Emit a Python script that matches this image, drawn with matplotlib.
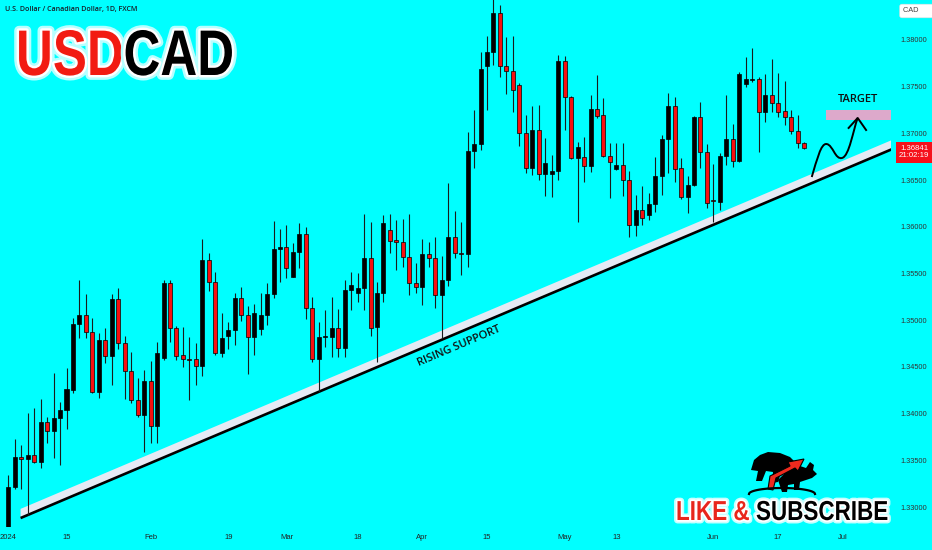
import matplotlib
matplotlib.use('Agg')
import matplotlib.pyplot as plt
import numpy as np
import pandas as pd
from matplotlib import patheffects as pe, font_manager as fm
from matplotlib.patches import Polygon, PathPatch
from matplotlib.path import Path
from matplotlib.transforms import Affine2D, blended_transform_factory

# ---------------- data (USDCAD daily, FXCM) ----------------
OPEN = [1.3245, 1.33218, 1.33532, 1.33510, 1.33553, 1.33478, 1.33910, 1.33810, 1.33949, 1.34038,
        1.34253, 1.34956, 1.35059, 1.34870, 1.34228, 1.34788, 1.34617, 1.35227, 1.34752, 1.34456,
        1.34146, 1.33985, 1.34349, 1.33867, 1.34592, 1.35395, 1.34920, 1.34624, 1.34581, 1.34585,
        1.34513, 1.35645, 1.35405, 1.34645, 1.34834, 1.34895, 1.35234, 1.35059, 1.34817, 1.34902,
        1.35059, 1.35280, 1.35759, 1.35780, 1.35466, 1.35734, 1.35923, 1.35134, 1.34588, 1.34817,
        1.34824, 1.34913, 1.34706, 1.35323, 1.35288, 1.35341, 1.35670, 1.34924, 1.35295, 1.35966,
        1.35859, 1.35834, 1.35673, 1.35402, 1.35359, 1.35705, 1.35670, 1.35266, 1.35430, 1.35887,
        1.35723, 1.35709, 1.36812, 1.36887, 1.37725, 1.37875, 1.38286, 1.37725, 1.37668, 1.37518,
        1.37001, 1.36626, 1.37036, 1.36565, 1.36565, 1.36596, 1.37779, 1.37386, 1.36733, 1.36744,
        1.36651, 1.37258, 1.37193, 1.36762, 1.36619, 1.36662, 1.36501, 1.36019, 1.36180, 1.36126,
        1.36244, 1.36544, 1.36940, 1.37293, 1.36626, 1.36315, 1.36448, 1.37179, 1.36797, 1.36287,
        1.36269, 1.36758, 1.36940, 1.36704, 1.37525, 1.37575, 1.37579, 1.37233, 1.37411, 1.37322,
        1.37240, 1.37179, 1.37026, 1.36894]
HIGH = [1.33343, 1.33724, 1.33664, 1.34003, 1.34056, 1.34153, 1.33960, 1.34431, 1.34120, 1.34485,
        1.35020, 1.35430, 1.35280, 1.35020, 1.34866, 1.34913, 1.35280, 1.35341, 1.34831, 1.34656,
        1.34377, 1.34467, 1.34563, 1.34763, 1.35430, 1.35430, 1.34938, 1.34931, 1.34824, 1.34752,
        1.35866, 1.35723, 1.35520, 1.35073, 1.34977, 1.35295, 1.35359, 1.35152, 1.35173, 1.35288,
        1.35395, 1.36062, 1.35976, 1.36019, 1.35830, 1.36044, 1.35994, 1.35252, 1.34977, 1.35109,
        1.35252, 1.35120, 1.35430, 1.35520, 1.35509, 1.36133, 1.36055, 1.35413, 1.36126, 1.36133,
        1.36073, 1.36080, 1.36133, 1.35609, 1.35866, 1.35841, 1.35887, 1.35687, 1.36473, 1.36173,
        1.36055, 1.37019, 1.37251, 1.37875, 1.38043, 1.38460, 1.38375, 1.38036, 1.38043, 1.37536,
        1.37197, 1.37293, 1.37304, 1.36954, 1.36769, 1.37839, 1.37829, 1.37400, 1.36912, 1.36965,
        1.37411, 1.37625, 1.37375, 1.36901, 1.36894, 1.36901, 1.36601, 1.36340, 1.36437, 1.36358,
        1.36751, 1.36983, 1.37429, 1.37386, 1.36733, 1.36544, 1.37186, 1.37340, 1.36887, 1.36672,
        1.36790, 1.37411, 1.37097, 1.37661, 1.37814, 1.37911, 1.37600, 1.37632, 1.37793, 1.37643,
        1.37561, 1.37250, 1.37197, 1.36911]
LOW = [1.3238, 1.33189, 1.33189, 1.32914, 1.33467, 1.33414, 1.33682, 1.33521, 1.33450, 1.33831,
       1.34217, 1.34813, 1.34813, 1.34217, 1.34163, 1.34545, 1.34306, 1.34692, 1.34153, 1.34117,
       1.33967, 1.33592, 1.33689, 1.33682, 1.34574, 1.34770, 1.34574, 1.34495, 1.34146, 1.34306,
       1.34406, 1.35316, 1.34627, 1.34610, 1.34692, 1.34734, 1.34995, 1.34424, 1.34627, 1.34842,
       1.34949, 1.35234, 1.35412, 1.35455, 1.35459, 1.35555, 1.35013, 1.34556, 1.34235, 1.34717,
       1.34602, 1.34610, 1.34610, 1.35109, 1.35198, 1.35109, 1.34834, 1.34556, 1.35198, 1.35716,
       1.35537, 1.35573, 1.35270, 1.35288, 1.35163, 1.35566, 1.35127, 1.34806, 1.35366, 1.35662,
       1.35484, 1.35573, 1.36626, 1.36822, 1.37251, 1.37732, 1.37607, 1.37418, 1.37233, 1.36865,
       1.36580, 1.36555, 1.36501, 1.36330, 1.36323, 1.36500, 1.37036, 1.36722, 1.36055, 1.36483,
       1.36590, 1.37161, 1.36744, 1.36305, 1.36608, 1.36333, 1.35894, 1.35901, 1.36019, 1.36073,
       1.36162, 1.36340, 1.36572, 1.36483, 1.36294, 1.36151, 1.36437, 1.36626, 1.36198, 1.36055,
       1.36180, 1.36662, 1.36644, 1.36690, 1.37500, 1.37550, 1.36804, 1.37126, 1.37233, 1.37179,
       1.37090, 1.36990, 1.36840, 1.36833]
CLOSE = [1.33218, 1.33532, 1.33510, 1.33553, 1.33482, 1.33910, 1.33810, 1.33949, 1.34038, 1.34260,
         1.34956, 1.35059, 1.34870, 1.34228, 1.34788, 1.34617, 1.35227, 1.34752, 1.34456, 1.34146,
         1.33985, 1.34349, 1.33867, 1.34645, 1.35395, 1.34920, 1.34620, 1.34581, 1.34576, 1.34513,
         1.35645, 1.35405, 1.34645, 1.34813, 1.34895, 1.35234, 1.35059, 1.34817, 1.35073, 1.35059,
         1.35280, 1.35759, 1.35780, 1.35555, 1.35734, 1.35923, 1.35134, 1.34588, 1.34824, 1.34831,
         1.34913, 1.34706, 1.35323, 1.35373, 1.35341, 1.35670, 1.34920, 1.35295, 1.36037, 1.35852,
         1.35841, 1.35673, 1.35402, 1.35359, 1.35705, 1.35670, 1.35266, 1.35430, 1.35887, 1.35716,
         1.35709, 1.36815, 1.36887, 1.37686, 1.37875, 1.38286, 1.37725, 1.37668, 1.37465, 1.37001,
         1.36626, 1.37036, 1.36565, 1.36680, 1.36601, 1.37779, 1.37386, 1.36733, 1.36851, 1.36651,
         1.37258, 1.37186, 1.36762, 1.36690, 1.36662, 1.36501, 1.36019, 1.36180, 1.36098, 1.36244,
         1.36544, 1.36940, 1.37293, 1.36615, 1.36315, 1.36448, 1.37179, 1.36797, 1.36258, 1.36273,
         1.36758, 1.36940, 1.36704, 1.37636, 1.37579, 1.37583, 1.37233, 1.37411, 1.37322, 1.37233,
         1.37179, 1.37026, 1.36894, 1.36841]
START_DATE = '2024-01-02'

TICK_DATES = ['2024-01-02', '2024-01-15', '2024-02-01', '2024-02-19', '2024-03-01', '2024-03-18',
              '2024-04-01', '2024-04-15', '2024-05-01', '2024-05-13', '2024-06-03', '2024-06-17',
              '2024-07-01']
TICK_LABELS = ['2024', '15', 'Feb', '19', 'Mar', '18', 'Apr', '15', 'May', '13', 'Jun', '17', 'Jul']
PRICE_TICKS = [1.330, 1.335, 1.340, 1.345, 1.350, 1.355, 1.360, 1.365, 1.370, 1.375, 1.380]

# annotation drawing (bar index, price)
SUPPORT_X = [1.9, 136.6]
SUPPORT_Y = [1.32882, 1.36831]
TARGET_X = [126.4, 136.6]
TARGET_Y = [1.37143, 1.37250]
CLOCK = '21:02:19'

# ---------------- fonts ----------------
names = {f.name for f in fm.fontManager.ttflist}
NARROW = 'Liberation Sans Narrow' if 'Liberation Sans Narrow' in names else 'Liberation Sans'
SANS = 'Open Sans' if 'Open Sans' in names else 'DejaVu Sans'
BG = '#00FFFF'


def _stretch(affine, sy, y0):
    return affine + Affine2D().translate(0, -y0).scale(1, sy).translate(0, y0)


class TallStroke(pe.Stroke):
    """Stroke effect that draws the glyph outlines taller (condensed look)."""
    def __init__(self, sy, y0, **kw):
        super().__init__(**kw)
        self.sy, self.y0 = sy, y0

    def draw_path(self, renderer, gc, tpath, affine, rgbFace):
        super().draw_path(renderer, gc, tpath, _stretch(affine, self.sy, self.y0), rgbFace)


class TallNormal(pe.AbstractPathEffect):
    def __init__(self, sy, y0):
        super().__init__()
        self.sy, self.y0 = sy, y0

    def draw_path(self, renderer, gc, tpath, affine, rgbFace):
        renderer.draw_path(gc, tpath, _stretch(affine, self.sy, self.y0), rgbFace)


W, H = 932, 550
fig = plt.figure(figsize=(W / 100, H / 100), dpi=100)
fig.patch.set_facecolor(BG)
ax = fig.add_axes([0, 23 / H, 891 / W, 527 / H])
ax.set_facecolor(BG)
for s in ax.spines.values():
    s.set_visible(False)

n = len(OPEN)
x = np.arange(n)
o = np.array(OPEN); c = np.array(CLOSE); hi = np.array(HIGH); lo = np.array(LOW)
up = c >= o
ax.vlines(x, lo, hi, color='#1a1a1a', lw=0.8, zorder=2)
body_lo = np.minimum(o, c)
body_h = np.maximum(np.abs(c - o), 0.00004)
cols = np.where(up, '#000000', '#F80F0F')
ax.bar(x, body_h, bottom=body_lo, width=0.62, color=cols, edgecolor='#000000', lw=0.5, zorder=3)

ax.set_xlim(-1.28, 136.45)
ax.set_ylim(1.32786, 1.38428)

# x ticks
all_dates = pd.bdate_range(START_DATE, '2024-07-31')
tick_pos = [all_dates.get_loc(pd.Timestamp(d)) for d in TICK_DATES]
ax.set_xticks(tick_pos)
ax.set_xticklabels(TICK_LABELS, family=NARROW, fontsize=5.5, color='#222222')
ax.tick_params(axis='x', length=0, pad=5)

# y ticks on right
ax.yaxis.tick_right()
ax.set_yticks(PRICE_TICKS)
ax.set_yticklabels([f'{v:.5f}' for v in PRICE_TICKS], family=NARROW, fontsize=5.3, color='#333333')
ax.tick_params(axis='y', length=0, pad=7)

# support line with white band
sx = np.array(SUPPORT_X); sy = np.array(SUPPORT_Y)
off = 0.00098
band = Polygon([[sx[0], sy[0]], [sx[1], sy[1]], [sx[1], sy[1] + off], [sx[0], sy[0] + off]],
               closed=True, fc='#E6EAF4', ec='none', zorder=1.5)
ax.add_patch(band)
ax.plot(sx, sy, color='black', lw=1.9, solid_capstyle='butt', zorder=1.6)
ax.text(69.7, 1.34724, 'RISING SUPPORT', rotation=23, rotation_mode='anchor', ha='center', va='center',
        family=SANS, fontsize=8, fontweight='semibold', color='#111111', zorder=4)

# target zone
ax.add_patch(plt.Rectangle((TARGET_X[0], TARGET_Y[0]), TARGET_X[1] - TARGET_X[0], TARGET_Y[1] - TARGET_Y[0],
                           fc='#DDA9CB', ec='none', zorder=2))
ax.text(131.3, 1.37368, 'TARGET', ha='center', va='center', family=SANS, fontsize=8,
        fontweight='semibold', color='#111111')

# curved arrow toward target
verts = [(124.2, 1.36533), (125.0, 1.36715), (125.6, 1.36897), (126.5, 1.36886),
         (127.5, 1.36876), (127.8, 1.36715), (128.9, 1.36737),
         (130.0, 1.36758), (130.6, 1.37036), (131.3, 1.37165)]
codes = [Path.MOVETO] + [Path.CURVE4] * 9
ax.add_patch(PathPatch(Path(verts, codes), fc='none', ec='black', lw=1.4, zorder=4))
ax.plot([129.9, 131.3, 132.6], [1.37058, 1.37165, 1.37036], color='black', lw=1.4, zorder=4)

# subtitle
fig.text(5 / W, 1 - 10 / H, 'U.S. Dollar / Canadian Dollar, 1D, FXCM', family=SANS, fontsize=5.1,
         fontweight='semibold', color='#15202a', ha='left', va='center')


def condensed_words(parts, left, baseline, width, cap_px, glow_cols):
    """Consecutive bold words (text, colour) fitted to a pixel width, drawn taller to reach cap height."""
    size = 20.0
    texts = [fig.text(left / W, 1 - baseline / H, t, family='Liberation Sans', fontsize=size,
                      fontweight='bold', color=col, ha='left', va='baseline') for t, col in parts]
    fig.canvas.draw()
    r = fig.canvas.get_renderer()
    k = width / sum(t.get_window_extent(r).width for t in texts)
    size *= k
    for t in texts:
        t.set_fontsize(size)
    fig.canvas.draw()
    widths = [t.get_window_extent(r).width for t in texts]
    cap_now = 0.729 * size * 100 / 72
    stretch = cap_px / cap_now
    y0 = H - baseline
    xpos = left
    for t, w in zip(texts, widths):
        t.set_x(xpos / W)
        t.set_path_effects([TallStroke(stretch, y0, linewidth=glow_cols[0][0], foreground=glow_cols[0][1]),
                            TallStroke(stretch, y0, linewidth=glow_cols[1][0], foreground=glow_cols[1][1]),
                            TallNormal(stretch, y0)])
        xpos += w
    return texts


condensed_words([('USD', '#F21B12'), ('CAD', '#000000')], 16, 75, 218, 47,
                [(7, '#B8FFFF'), (3.5, 'white')])
condensed_words([('LIKE &', '#E8261C'), (' SUBSCRIBE', '#000000')], 676, 520, 212, 20,
                [(5, '#C8FFFF'), (2.5, 'white')])

# bull & bear icon (decoration, figure pixel coords)
pt = Affine2D().scale(1 / W, -1 / H).translate(0, 1) + fig.transFigure
bear = [(751, 470), (754, 460), (760, 455), (768, 452), (780, 453), (790, 457), (796, 463), (790, 468),
        (782, 470), (778, 482), (772, 483), (773, 472), (766, 471), (762, 481), (756, 481), (758, 471)]
bull = [(778, 480), (788, 470), (800, 466), (806, 468), (810, 462), (814, 465), (813, 470), (817, 474),
        (812, 478), (806, 480), (800, 482), (799, 490), (794, 490), (794, 484), (788, 485), (787, 492), (782, 492)]
arrow = [(768, 489), (770, 476), (790, 466), (788, 462), (804, 459), (798, 471), (795, 468), (776, 478), (773, 490)]
fig.patches.append(Polygon(bear, closed=True, fc='black', ec='none', transform=pt, figure=fig))
fig.patches.append(Polygon(bull, closed=True, fc='black', ec='none', transform=pt, figure=fig))
fig.patches.append(Polygon(arrow, closed=True, fc='#EE2A1E', ec='black', lw=0.8, transform=pt, figure=fig))
ang = np.linspace(0, np.pi, 40)
arc_x = 782 + 33 * np.cos(ang)
arc_y = 494 - 6 * np.sin(ang)
fig.lines.append(plt.Line2D(arc_x, arc_y, color='black', lw=1.6, transform=pt, figure=fig))

# CAD currency box
fig.text(903 / W, 1 - 11 / H, 'CAD      ', family=NARROW, fontsize=5.3, color='#444444', ha='left', va='center',
         bbox=dict(boxstyle='round,pad=0.45,rounding_size=0.3', fc='white', ec='#dddddd', lw=0.4))

# last price label
bt = blended_transform_factory(fig.transFigure, ax.transData)
ax.annotate(f'{CLOSE[-1]:.5f}\n{CLOCK}', xy=(914 / W, CLOSE[-1]), xycoords=bt, xytext=(0, -3),
            textcoords='offset points', ha='center', va='center', family=NARROW, fontsize=5.6, color='white',
            linespacing=1.0, annotation_clip=False,
            bbox=dict(boxstyle='square,pad=0.4', fc='#F5111B', ec='none'))

fig.savefig('out.png', dpi=100, facecolor=BG)
